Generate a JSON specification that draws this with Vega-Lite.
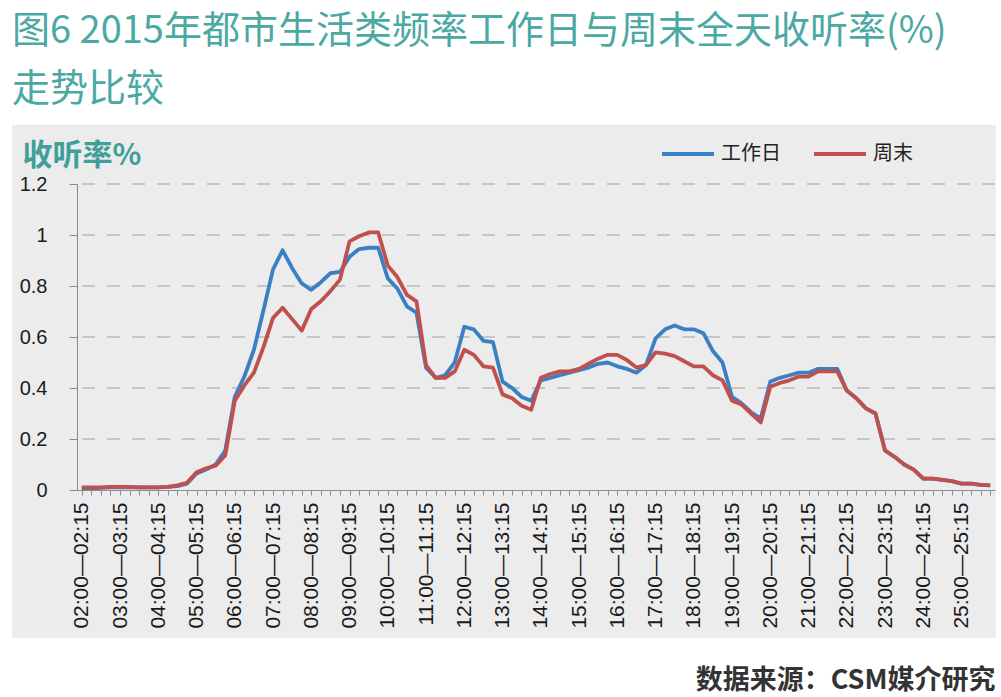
{
  "$schema": "https://vega.github.io/schema/vega-lite/v6.json",
  "description": "2015年都市生活类频率工作日与周末全天收听率走势比较",
  "width": 918,
  "height": 306,
  "autosize": "none",
  "padding": {"left": 77, "top": 184, "right": 6, "bottom": 207},
  "background": "#ffffff",
  "title": {
    "text": ["图6 2015年都市生活类频率工作日与周末全天收听率(%)", "走势比较"],
    "anchor": "start",
    "frame": "group",
    "dx": -65,
    "font": "Noto Sans CJK SC",
    "fontSize": 38,
    "fontWeight": "normal",
    "lineHeight": 58,
    "color": "#4ba9a3",
    "offset": 16
  },
  "config": {
    "view": {"stroke": null}
  },
  "resolve": {"scale": {"x": "independent"}},
  "layer": [
    {
      "data": {"values": [{"panel": "bg"}]},
      "mark": {"type": "rect", "color": "#ececec"},
      "encoding": {
        "x": {"datum": -0.0708, "type": "quantitative", "scale": {"domain": [0, 1]}, "axis": null},
        "x2": {"datum": 1.0011},
        "y": {"datum": 1.432, "type": "quantitative", "scale": {"domain": [0, 1.2], "nice": false}},
        "y2": {"datum": -0.58}
      }
    },
    {
      "data": {"values": [{"g": 0.2}, {"g": 0.4}, {"g": 0.6}, {"g": 0.8}, {"g": 1}, {"g": 1.2}]},
      "mark": {"type": "rule", "color": "#a0a0a0", "strokeWidth": 1, "strokeDash": [13, 12]},
      "encoding": {
        "y": {"field": "g", "type": "quantitative"}
      }
    },
    {
      "data": {
        "values": [
          {"t": "02:00—02:15", "工作日": 0.005, "周末": 0.01},
          {"t": "02:15—02:30", "工作日": 0.005, "周末": 0.01},
          {"t": "02:30—02:45", "工作日": 0.008, "周末": 0.01},
          {"t": "02:45—03:00", "工作日": 0.01, "周末": 0.012},
          {"t": "03:00—03:15", "工作日": 0.01, "周末": 0.012},
          {"t": "03:15—03:30", "工作日": 0.01, "周末": 0.012},
          {"t": "03:30—03:45", "工作日": 0.01, "周末": 0.01},
          {"t": "03:45—04:00", "工作日": 0.01, "周末": 0.01},
          {"t": "04:00—04:15", "工作日": 0.01, "周末": 0.01},
          {"t": "04:15—04:30", "工作日": 0.012, "周末": 0.012},
          {"t": "04:30—04:45", "工作日": 0.015, "周末": 0.018},
          {"t": "04:45—05:00", "工作日": 0.025, "周末": 0.028},
          {"t": "05:00—05:15", "工作日": 0.065, "周末": 0.07},
          {"t": "05:15—05:30", "工作日": 0.08, "周末": 0.085},
          {"t": "05:30—05:45", "工作日": 0.1, "周末": 0.095},
          {"t": "05:45—06:00", "工作日": 0.155, "周末": 0.135},
          {"t": "06:00—06:15", "工作日": 0.365, "周末": 0.35},
          {"t": "06:15—06:30", "工作日": 0.445, "周末": 0.41},
          {"t": "06:30—06:45", "工作日": 0.55, "周末": 0.46},
          {"t": "06:45—07:00", "工作日": 0.705, "周末": 0.56},
          {"t": "07:00—07:15", "工作日": 0.865, "周末": 0.675},
          {"t": "07:15—07:30", "工作日": 0.94, "周末": 0.715},
          {"t": "07:30—07:45", "工作日": 0.87, "周末": 0.67},
          {"t": "07:45—08:00", "工作日": 0.81, "周末": 0.625},
          {"t": "08:00—08:15", "工作日": 0.785, "周末": 0.71},
          {"t": "08:15—08:30", "工作日": 0.815, "周末": 0.74},
          {"t": "08:30—08:45", "工作日": 0.85, "周末": 0.78},
          {"t": "08:45—09:00", "工作日": 0.855, "周末": 0.825},
          {"t": "09:00—09:15", "工作日": 0.915, "周末": 0.975},
          {"t": "09:15—09:30", "工作日": 0.945, "周末": 0.995},
          {"t": "09:30—09:45", "工作日": 0.95, "周末": 1.01},
          {"t": "09:45—10:00", "工作日": 0.95, "周末": 1.01},
          {"t": "10:00—10:15", "工作日": 0.83, "周末": 0.88},
          {"t": "10:15—10:30", "工作日": 0.79, "周末": 0.835},
          {"t": "10:30—10:45", "工作日": 0.72, "周末": 0.765},
          {"t": "10:45—11:00", "工作日": 0.695, "周末": 0.74},
          {"t": "11:00—11:15", "工作日": 0.48, "周末": 0.49},
          {"t": "11:15—11:30", "工作日": 0.44, "周末": 0.44},
          {"t": "11:30—11:45", "工作日": 0.45, "周末": 0.44},
          {"t": "11:45—12:00", "工作日": 0.5, "周末": 0.465},
          {"t": "12:00—12:15", "工作日": 0.64, "周末": 0.55},
          {"t": "12:15—12:30", "工作日": 0.63, "周末": 0.53},
          {"t": "12:30—12:45", "工作日": 0.585, "周末": 0.485},
          {"t": "12:45—13:00", "工作日": 0.58, "周末": 0.48},
          {"t": "13:00—13:15", "工作日": 0.425, "周末": 0.375},
          {"t": "13:15—13:30", "工作日": 0.4, "周末": 0.36},
          {"t": "13:30—13:45", "工作日": 0.365, "周末": 0.33},
          {"t": "13:45—14:00", "工作日": 0.35, "周末": 0.315},
          {"t": "14:00—14:15", "工作日": 0.43, "周末": 0.44},
          {"t": "14:15—14:30", "工作日": 0.44, "周末": 0.455},
          {"t": "14:30—14:45", "工作日": 0.45, "周末": 0.465},
          {"t": "14:45—15:00", "工作日": 0.46, "周末": 0.465},
          {"t": "15:00—15:15", "工作日": 0.47, "周末": 0.475},
          {"t": "15:15—15:30", "工作日": 0.48, "周末": 0.495},
          {"t": "15:30—15:45", "工作日": 0.495, "周末": 0.515},
          {"t": "15:45—16:00", "工作日": 0.5, "周末": 0.53},
          {"t": "16:00—16:15", "工作日": 0.485, "周末": 0.53},
          {"t": "16:15—16:30", "工作日": 0.475, "周末": 0.51},
          {"t": "16:30—16:45", "工作日": 0.46, "周末": 0.48},
          {"t": "16:45—17:00", "工作日": 0.49, "周末": 0.49},
          {"t": "17:00—17:15", "工作日": 0.595, "周末": 0.54},
          {"t": "17:15—17:30", "工作日": 0.63, "周末": 0.535},
          {"t": "17:30—17:45", "工作日": 0.645, "周末": 0.525},
          {"t": "17:45—18:00", "工作日": 0.63, "周末": 0.505},
          {"t": "18:00—18:15", "工作日": 0.63, "周末": 0.485},
          {"t": "18:15—18:30", "工作日": 0.615, "周末": 0.485},
          {"t": "18:30—18:45", "工作日": 0.545, "周末": 0.45},
          {"t": "18:45—19:00", "工作日": 0.5, "周末": 0.43},
          {"t": "19:00—19:15", "工作日": 0.365, "周末": 0.35},
          {"t": "19:15—19:30", "工作日": 0.34, "周末": 0.335},
          {"t": "19:30—19:45", "工作日": 0.305, "周末": 0.3},
          {"t": "19:45—20:00", "工作日": 0.28, "周末": 0.265},
          {"t": "20:00—20:15", "工作日": 0.425, "周末": 0.405},
          {"t": "20:15—20:30", "工作日": 0.44, "周末": 0.42},
          {"t": "20:30—20:45", "工作日": 0.45, "周末": 0.43},
          {"t": "20:45—21:00", "工作日": 0.46, "周末": 0.445},
          {"t": "21:00—21:15", "工作日": 0.46, "周末": 0.445},
          {"t": "21:15—21:30", "工作日": 0.475, "周末": 0.465},
          {"t": "21:30—21:45", "工作日": 0.475, "周末": 0.465},
          {"t": "21:45—22:00", "工作日": 0.475, "周末": 0.465},
          {"t": "22:00—22:15", "工作日": 0.39, "周末": 0.39},
          {"t": "22:15—22:30", "工作日": 0.36, "周末": 0.36},
          {"t": "22:30—22:45", "工作日": 0.32, "周末": 0.32},
          {"t": "22:45—23:00", "工作日": 0.3, "周末": 0.3},
          {"t": "23:00—23:15", "工作日": 0.155, "周末": 0.155},
          {"t": "23:15—23:30", "工作日": 0.13, "周末": 0.13},
          {"t": "23:30—23:45", "工作日": 0.1, "周末": 0.1},
          {"t": "23:45—24:00", "工作日": 0.08, "周末": 0.08},
          {"t": "24:00—24:15", "工作日": 0.045, "周末": 0.045},
          {"t": "24:15—24:30", "工作日": 0.045, "周末": 0.045},
          {"t": "24:30—24:45", "工作日": 0.04, "周末": 0.04},
          {"t": "24:45—25:00", "工作日": 0.035, "周末": 0.035},
          {"t": "25:00—25:15", "工作日": 0.025, "周末": 0.025},
          {"t": "25:15—25:30", "工作日": 0.025, "周末": 0.025},
          {"t": "25:30—25:45", "工作日": 0.02, "周末": 0.02},
          {"t": "25:45—26:00", "工作日": 0.018, "周末": 0.018}
        ]
      },
      "transform": [{"fold": ["工作日", "周末"], "as": ["series", "rate"]}],
      "mark": {"type": "line", "strokeWidth": 3.8, "strokeJoin": "round"},
      "encoding": {
        "x": {
          "field": "t",
          "type": "ordinal",
          "sort": null,
          "scale": {"type": "point", "padding": 0.5},
          "axis": {
            "zindex": 1,
            "title": "数据来源：CSM媒介研究",
            "titleFont": "Noto Sans CJK SC",
            "titleFontSize": 27,
            "titleFontWeight": "bold",
            "titleColor": "#333333",
            "titleAlign": "right",
            "titleBaseline": "alphabetic",
            "titleX": 918,
            "titleY": 198,
            "labelExpr": "substring(datum.value, 3, 5) == '00' ? datum.value : ''",
            "labelOverlap": false,
            "labelAngle": -90,
            "labelAlign": "right",
            "labelBaseline": "middle",
            "labelFont": "Liberation Sans",
            "labelFontSize": 21,
            "labelColor": "#1a1a1a",
            "labelPadding": 7,
            "domainColor": "#8c8c8c",
            "tickColor": "#8c8c8c",
            "tickSize": 5,
            "grid": false
          }
        },
        "y": {
          "field": "rate",
          "type": "quantitative",
          "scale": {"domain": [0, 1.2], "nice": false},
          "axis": {
            "zindex": 1,
            "values": [0, 0.2, 0.4, 0.6, 0.8, 1, 1.2],
            "format": "~g",
            "title": "收听率%",
            "titleFont": "Noto Sans CJK SC",
            "titleFontSize": 30,
            "titleFontWeight": "bold",
            "titleColor": "#3f9f99",
            "titleAngle": 0,
            "titleAlign": "left",
            "titleBaseline": "alphabetic",
            "titleX": -55,
            "titleY": -20,
            "labelFont": "Liberation Sans",
            "labelFontSize": 20,
            "labelColor": "#1a1a1a",
            "labelPadding": 22,
            "domainColor": "#8c8c8c",
            "tickColor": "#8c8c8c",
            "tickSize": 8,
            "grid": false
          }
        },
        "color": {
          "field": "series",
          "type": "nominal",
          "sort": ["工作日", "周末"],
          "scale": {"domain": ["工作日", "周末"], "range": ["#3b7fc4", "#c0504d"]},
          "legend": {
            "title": null,
            "orient": "none",
            "legendX": 583,
            "legendY": -58,
            "direction": "horizontal",
            "symbolType": "stroke",
            "symbolSize": 2704,
            "symbolStrokeWidth": 4,
            "labelFont": "Noto Sans CJK SC",
            "labelFontSize": 20,
            "labelColor": "#222222",
            "labelOffset": 5,
            "columnPadding": 25,
            "padding": 0
          }
        }
      }
    }
  ]
}
